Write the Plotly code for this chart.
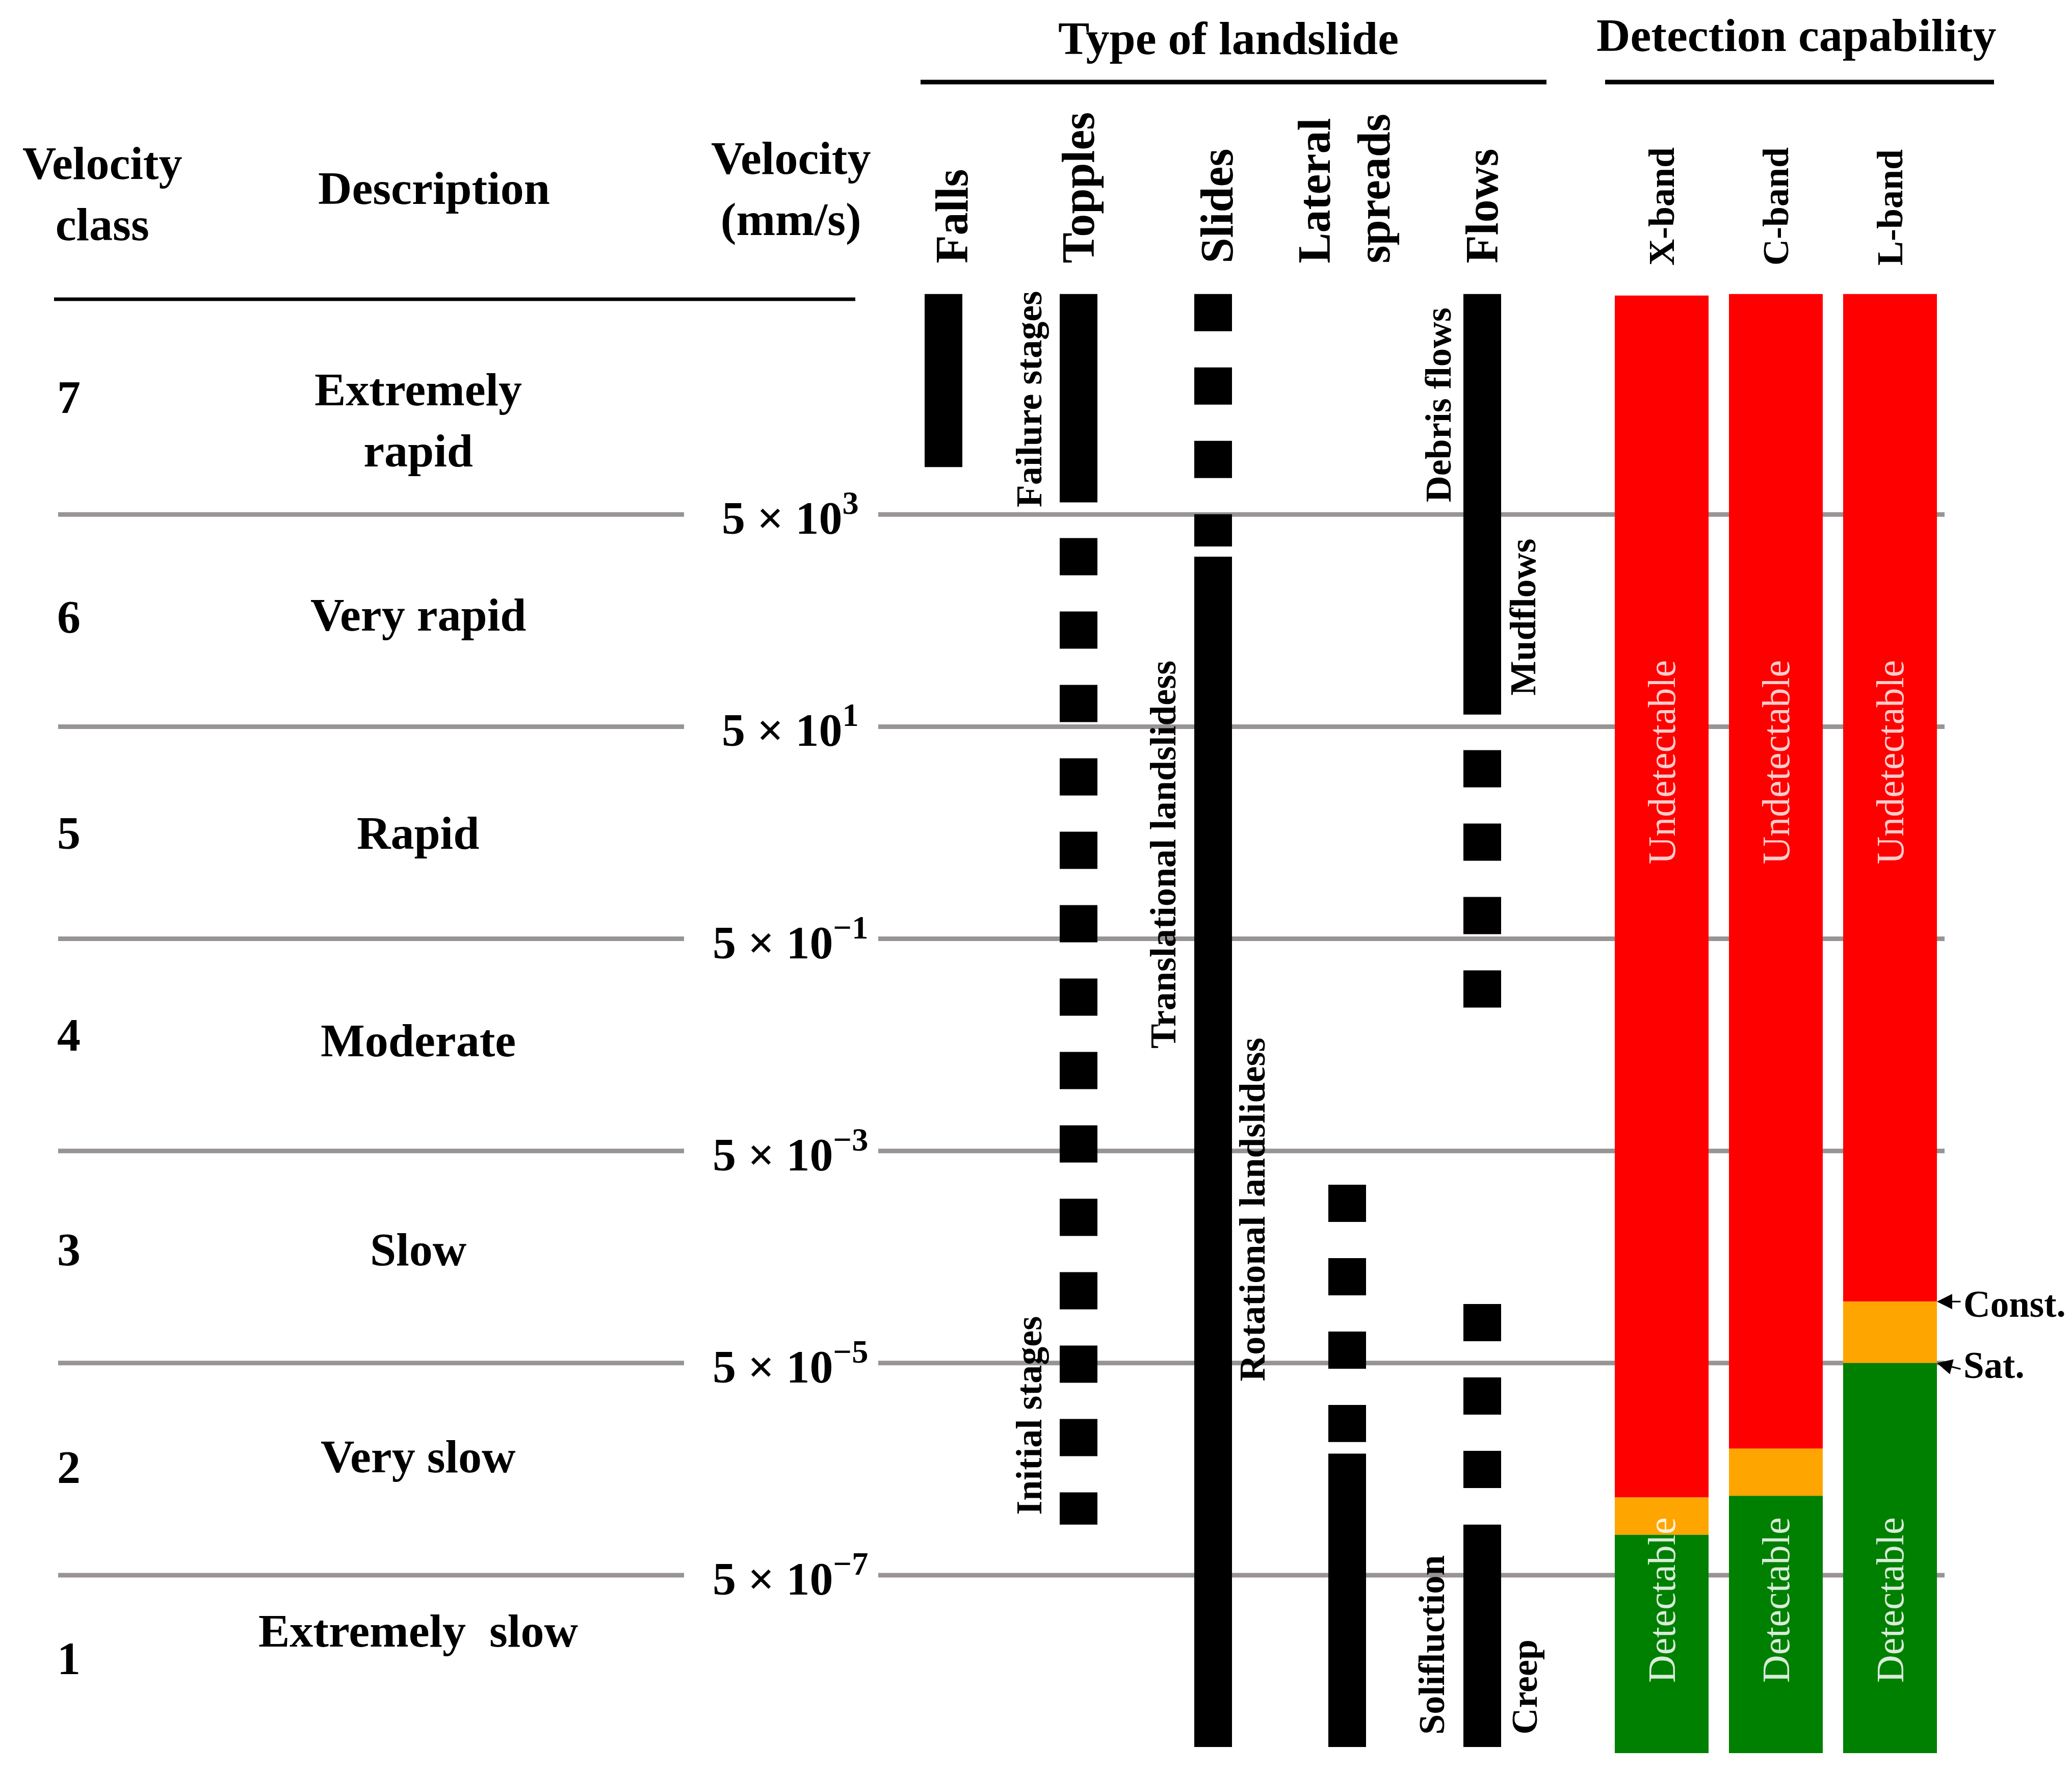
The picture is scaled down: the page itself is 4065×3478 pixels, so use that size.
import numpy as np
import plotly.graph_objects as go

FONT = "Liberation Serif"
W, H = 4065, 3478

# Velocity scale (mm/s), classes 7 (fastest) to 1
velocity_class = ["7", "6", "5", "4", "3", "2", "1"]
description = ["Extremely<br>rapid", "Very rapid", "Rapid", "Moderate",
               "Slow", "Very slow", "Extremely\u00a0 slow"]
class_limits = [5e3, 5e1, 5e-1, 5e-3, 5e-5, 5e-7]
limit_labels = ["5 × 10<sup>3</sup>", "5 × 10<sup>1</sup>", "5 × 10<sup>−1</sup>",
                "5 × 10<sup>−3</sup>", "5 × 10<sup>−5</sup>", "5 × 10<sup>−7</sup>"]
class_label_v = [6.4e4, 5.4e2, 5.0, 6.2e-2, 5.9e-4, 5.2e-6, 8.2e-8]
description_v = [3.9e4, 5.7e2, 5.0, 5.5e-2, 5.9e-4, 6.6e-6, 1.5e-7]

# Type of landslide: velocity ranges (upper, lower) in mm/s
landslide_types = ["Falls", "Topples", "Slides", "Lateral<br>spreads", "Flows"]
falls_solid = [(6e5, 1.4e4)]
falls_dashed = []
topples_solid = [(6e5, 6.5e3)]
topples_dashed = [(3e3, 1.5e-6)]
slides_solid = [(2e3, 1.2e-8)]
slides_dashed = [(6e5, 2.5e3)]
lateral_solid = [(7e-6, 1.2e-8)]
lateral_dashed = [(2.4e-3, 9e-6)]
flows_solid = [(6e5, 65), (1.5e-6, 1.2e-8)]
flows_dashed = [(30, 0.11), (1.8e-4, 3.2e-6)]

# labels written along the bars
mechanisms = ["Failure stages", "Initial stages", "Translational landslidess",
              "Rotational landslidess", "Debris flows", "Mudflows",
              "Solifluction", "Creep"]
mechanism_v = [6.1e4, 1.6e-5, 3.1, 1.4e-3, 5.4e4, 5.4e2, 1.1e-7, 4.4e-8]

# Detection capability per SAR band (mm/s)
bands = ["X-band", "C-band", "L-band"]
band_top = [5.8e5, 6e5, 6e5]
const_limit = [2.7e-6, 7.8e-6, 1.9e-4]
sat_limit = [1.2e-6, 2.8e-6, 5e-5]
band_bottom = [1.05e-8, 1.05e-8, 1.05e-8]
undetectable_v = 23
detectable_v = 2.9e-7

# layout positions (x axis runs in pixels)
type_x = [1851, 2116, 2380, 2643, 2908]
type_label_x = [1867, 2115, 2387, 2637, 2907]
mech_x = [2019, 2019, 2282, 2457, 2822, 2988, 2809, 2991]
band_x = [3260, 3484, 3708]
bar_w = 74
band_w = 184
dash_pat = "73px,71px"

fig = go.Figure()


def vbar(x, top, bottom, color, width, dash="solid"):
    fig.add_trace(go.Scatter(
        x=[x, x], y=[top, bottom], mode="lines",
        line=dict(color=color, width=width, dash=dash),
        hoverinfo="skip", showlegend=False))


# class boundaries (gap left for the labels)
for v in class_limits:
    fig.add_trace(go.Scatter(
        x=[114, 1342, None, 1723, 3815], y=[v, v, None, v, v], mode="lines",
        line=dict(color="#989494", width=9), hoverinfo="skip", showlegend=False))

# landslide bars
solid = [falls_solid, topples_solid, slides_solid, lateral_solid, flows_solid]
dashed = [falls_dashed, topples_dashed, slides_dashed, lateral_dashed, flows_dashed]
for i in range(len(landslide_types)):
    for top, bottom in solid[i]:
        vbar(type_x[i], top, bottom, "black", bar_w)
    for top, bottom in dashed[i]:
        vbar(type_x[i], top, bottom, "black", bar_w, dash_pat)

# detection bars
for i in range(len(bands)):
    vbar(band_x[i], band_top[i], const_limit[i], "#ff0000", band_w)
    vbar(band_x[i], const_limit[i], sat_limit[i], "#ffa500", band_w)
    vbar(band_x[i], sat_limit[i], band_bottom[i], "#008000", band_w)

ann = []


def txt(text, x, y, size, yref="y", bold=True, color="black", angle=0, **kw):
    if yref == "y":
        y = np.log10(y)
    else:
        y = 1 - y / H
    d = dict(text=text, x=x, y=y, xref="x", yref=yref, showarrow=False,
             textangle=angle, xanchor="center", yanchor="middle",
             font=dict(family=FONT, size=size, color=color,
                       weight="bold" if bold else "normal"))
    d.update(kw)
    ann.append(d)


# headers
txt("Velocity<br>class", 200, 380, 92, yref="paper")
txt("Description", 851, 369, 92, yref="paper")
txt("Velocity<br>(mm/s)", 1551, 370, 92, yref="paper")
txt("Type of landslide", 2410, 75, 92, yref="paper")
txt("Detection capability", 3524, 69, 92, yref="paper")

for i, name in enumerate(landslide_types):
    txt(name, type_label_x[i], 519, 90, yref="paper", angle=-90,
        yanchor="bottom", align="left")
for i, name in enumerate(bands):
    txt(name, band_x[i], 523, 72, yref="paper", angle=-90, yanchor="bottom")

# rows
for i in range(len(velocity_class)):
    txt(velocity_class[i], 135, class_label_v[i], 92)
    txt(description[i], 820, description_v[i], 92)
for v, lab in zip(class_limits, limit_labels):
    txt(lab, 1550, v, 92)

for i, name in enumerate(mechanisms):
    txt(name, mech_x[i], mechanism_v[i], 72, angle=-90)

for i in range(len(bands)):
    txt("Undetectable", band_x[i], undetectable_v, 76, bold=False,
        color="rgba(255,255,255,0.8)", angle=-90)
    txt("Detectable", band_x[i], detectable_v, 76, bold=False,
        color="rgba(255,255,255,0.85)", angle=-90)

# Const./Sat. markers on the L-band bar
edge = band_x[2] + band_w / 2
for v, lab, tilt in [(const_limit[2], "Const.", 0), (sat_limit[2], "Sat.", 12)]:
    ann.append(dict(text="", x=edge, y=np.log10(v), xref="x", yref="y",
                    ax=48, ay=tilt, showarrow=True, arrowhead=2, arrowsize=2,
                    arrowwidth=3, arrowcolor="black"))
    txt(lab, edge + 50, v, 73, xanchor="left", yshift=-5)

shapes = [
    dict(type="line", xref="x", yref="paper", x0=106, x1=1678,
         y0=1 - 587 / H, y1=1 - 587 / H, line=dict(color="black", width=7)),
    dict(type="line", xref="x", yref="paper", x0=1806, x1=3034,
         y0=1 - 161 / H, y1=1 - 161 / H, line=dict(color="black", width=9)),
    dict(type="line", xref="x", yref="paper", x0=3149, x1=3912,
         y0=1 - 161 / H, y1=1 - 161 / H, line=dict(color="black", width=9)),
]

fig.update_layout(
    width=W, height=H,
    margin=dict(l=0, r=0, t=0, b=0),
    paper_bgcolor="white", plot_bgcolor="white",
    xaxis=dict(range=[0, W], visible=False, fixedrange=True),
    yaxis=dict(type="log", range=[-8.166, 8.550], visible=False, fixedrange=True),
    annotations=ann,
    shapes=shapes,
    showlegend=False,
)

fig.write_html("out.html", config={"displayModeBar": False},
               post_script="document.body.style.margin = '0px';")
